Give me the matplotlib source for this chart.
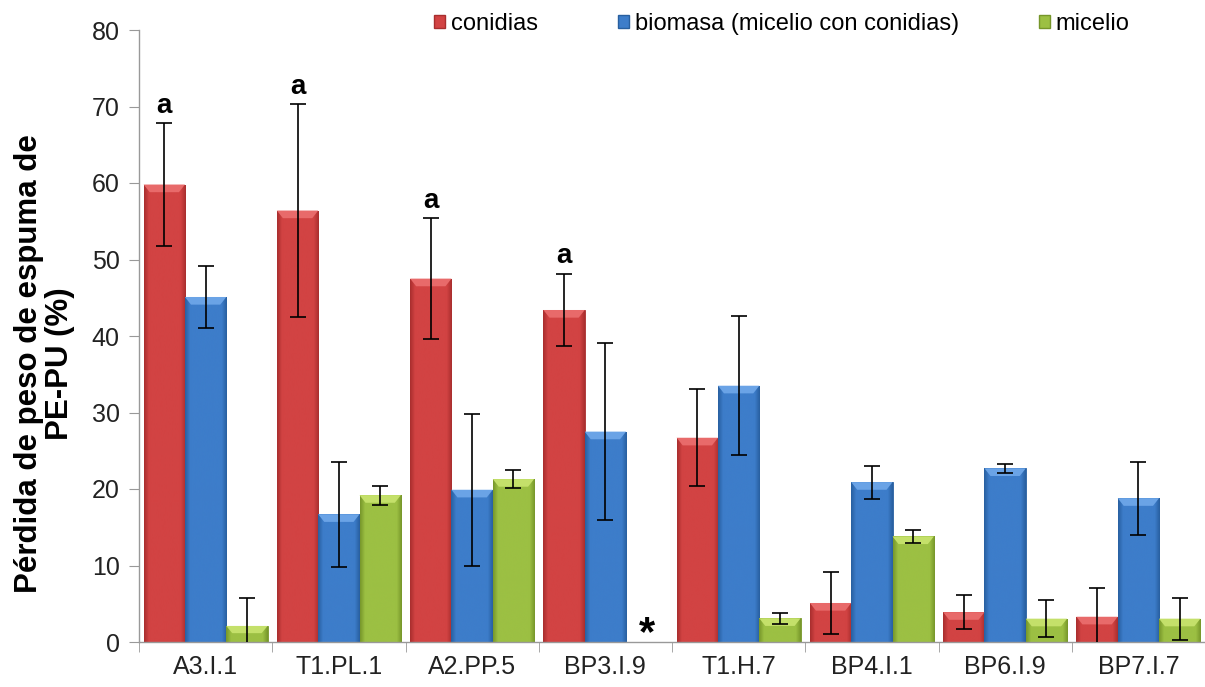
import numpy as np
import matplotlib
matplotlib.use("Agg")
import matplotlib.pyplot as plt
from matplotlib.colors import LinearSegmentedColormap
from matplotlib.patches import Rectangle, Polygon

categories = ["A3.I.1", "T1.PL.1", "A2.PP.5", "BP3.I.9", "T1.H.7", "BP4.I.1", "BP6.I.9", "BP7.I.7"]
conidias = [59.8, 56.4, 47.5, 43.4, 26.7, 5.1, 3.9, 3.3]
conidias_err = [8.0, 13.9, 7.9, 4.75, 6.35, 4.0, 2.25, 3.7]
biomasa = [45.1, 16.7, 19.9, 27.5, 33.5, 20.9, 22.7, 18.8]
biomasa_err = [4.1, 6.85, 9.9, 11.55, 9.05, 2.15, 0.6, 4.75]
micelio = [2.1, 19.2, 21.3, 0.0, 3.1, 13.8, 3.05, 3.05]
micelio_err = [3.7, 1.25, 1.15, 0.0, 0.7, 0.85, 2.45, 2.75]
letters = ["a", "a", "a", "a", "", "", "", ""]
missing = [False, False, False, True, False, False, False, False]

series_names = ["conidias", "biomasa (micelio con conidias)", "micelio"]
# (edge/dark, body, bevel highlight)
colors = [("#a82e2e", "#d24343", "#e86a6a"),
          ("#285f9f", "#3d7dca", "#6aa3e6"),
          ("#76962a", "#9cc043", "#c4e06a")]

plt.rcParams['font.family'] = ['Liberation Sans', 'DejaVu Sans']

fig = plt.figure(figsize=(12.05, 6.87), dpi=100)
ax = fig.add_axes([139/1205, 45/687, 1066/1205, 612/687])

x = np.arange(len(categories))
w = 0.31
data = [conidias, biomasa, micelio]
errs = [conidias_err, biomasa_err, micelio_err]

ax.set_xlim(-0.5, len(categories) - 0.5)
ax.set_ylim(0, 80)

bevel_h = 1.0      # data units
bevel_in = 0.045   # data units

for i, (vals, er, (dark, body, hi)) in enumerate(zip(data, errs, colors)):
    pos = x + (i - 1) * w
    bars = ax.bar(pos, vals, width=w, color=body, edgecolor=dark, linewidth=0.6, zorder=2)
    cmap = LinearSegmentedColormap.from_list("g", [(0, dark), (0.12, body), (0.5, body), (0.88, body), (1, dark)])
    grad = np.linspace(0, 1, 128).reshape(1, -1)
    for b, v in zip(bars, vals):
        if v <= 0:
            continue
        x0, y0 = b.get_x(), b.get_y()
        bw, bh = b.get_width(), b.get_height()
        im = ax.imshow(grad, cmap=cmap, aspect='auto', extent=[x0, x0 + bw, y0, y0 + bh],
                       zorder=2.5, interpolation='bicubic')
        im.set_clip_path(b)
        hb = min(bevel_h, bh * 0.45)
        top = y0 + bh
        bev = Polygon([(x0, top), (x0 + bw, top), (x0 + bw - bevel_in, top - hb), (x0 + bevel_in, top - hb)],
                      closed=True, facecolor=hi, edgecolor='none', zorder=2.6)
        ax.add_patch(bev)
    mask = [v > 0 for v in vals]
    ax.errorbar(pos[mask], np.array(vals)[mask], yerr=np.array(er)[mask],
                fmt='none', ecolor='black', elinewidth=1.2, capsize=6, capthick=1.2, zorder=4)

for xi, v, e, lt in zip(x, conidias, conidias_err, letters):
    if lt:
        ax.text(xi - w, v + e + 0.6, lt, ha='center', va='bottom', fontsize=20, fontweight='bold')

for xi, m in zip(x, missing):
    if m:
        ax.text(xi + w, -1.6, "*", ha='center', va='bottom', fontsize=30, fontweight='bold')

ax.set_yticks(np.arange(0, 81, 10))
ax.set_xticks(x)
ax.set_xticklabels(categories, fontsize=18)
ax.set_xticks(np.arange(-0.5, len(categories), 1), minor=True)
ax.tick_params(axis='x', which='major', length=0, pad=9)
ax.tick_params(axis='x', which='minor', length=7, color='#999999')
ax.tick_params(axis='y', labelsize=18, length=7, color='#999999', pad=7, labelcolor='#222222')
ax.tick_params(axis='x', labelcolor='#222222')
for s in ['top', 'right']:
    ax.spines[s].set_visible(False)
for s in ['left', 'bottom']:
    ax.spines[s].set_color('#999999')
    ax.spines[s].set_linewidth(1.0)
ax.set_ylabel("Pérdida de peso de espuma de\nPE-PU (%)", fontsize=22.5, fontweight='bold',
              linespacing=1.05)
ax.yaxis.set_label_coords(-0.06, 0.455)

handles = [Rectangle((0, 0), 1, 1, facecolor=c[1], edgecolor=c[0]) for c in colors]
fig.legend(handles, series_names, loc='upper left', bbox_to_anchor=(413/1205, 1.012), ncol=3,
           frameon=False, fontsize=17, handlelength=0.45, handleheight=0.45, handletextpad=0.25,
           columnspacing=3.4)

fig.savefig("out.png", dpi=100)
